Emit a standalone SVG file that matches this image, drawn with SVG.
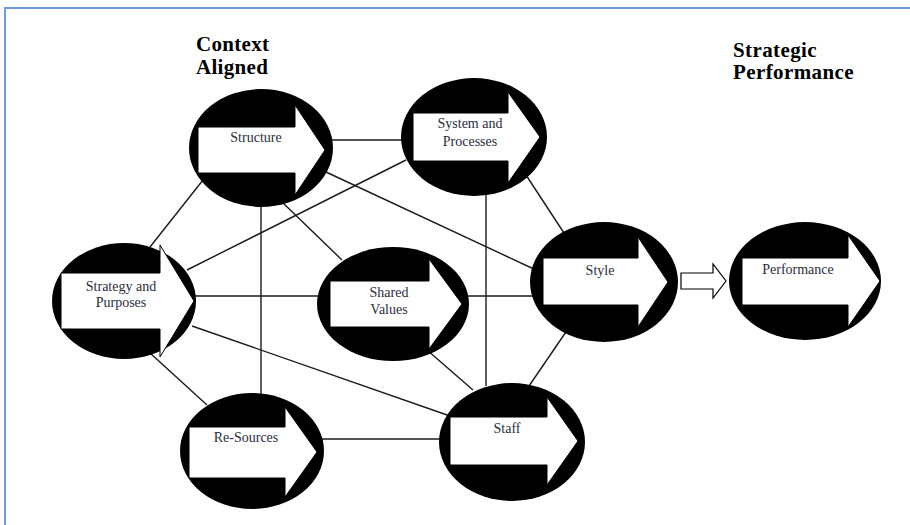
<svg xmlns="http://www.w3.org/2000/svg" width="910" height="525" viewBox="0 0 910 525">
<style>
.bg{fill:#ffffff}
.frame{fill:none;stroke:#6b9be0;stroke-width:2}
.conn line{stroke:#1a1a1a;stroke-width:1.4}
.disc{fill:#000000}
.arr{fill:#ffffff;stroke:#000000;stroke-width:1}
.lbl{font-family:"Liberation Serif","DejaVu Serif",serif;font-size:14px;fill:#2a2d40;text-anchor:middle}
.ttl{font-family:"Liberation Serif","DejaVu Serif",serif;font-size:21px;font-weight:bold;fill:#000000}
</style>
<rect class="bg" x="0" y="0" width="910" height="525"/>
<path class="frame" d="M5,525 V8 H910"/>
<g id="titles">
<text class="ttl" x="196" y="51" letter-spacing="0.3">Context</text>
<text class="ttl" x="196" y="74" letter-spacing="0.3">Aligned</text>
<text class="ttl" x="733" y="57" letter-spacing="0.4">Strategic</text>
<text class="ttl" x="733" y="79" letter-spacing="0.4">Performance</text>
</g>
<g id="connectors" class="conn">
<line x1="330" y1="140" x2="404" y2="140"/>
<line x1="203" y1="180" x2="150" y2="247"/>
<line x1="261" y1="205" x2="261" y2="395"/>
<line x1="282" y1="202" x2="342" y2="260"/>
<line x1="326" y1="172" x2="536" y2="270"/>
<line x1="406" y1="160" x2="187" y2="270"/>
<line x1="486" y1="192" x2="486" y2="386"/>
<line x1="526" y1="175" x2="564" y2="233"/>
<line x1="194" y1="296" x2="320" y2="296"/>
<line x1="466" y1="296" x2="535" y2="296"/>
<line x1="192" y1="326" x2="450" y2="416"/>
<line x1="150" y1="353" x2="207" y2="405"/>
<line x1="427" y1="350" x2="473" y2="390"/>
<line x1="568" y1="329" x2="529" y2="386"/>
<line x1="320" y1="439" x2="444" y2="439"/>
</g>
<g id="structure">
<ellipse class="disc" cx="261" cy="148" rx="72" ry="59"/>
<polygon class="arr" points="198,127 295,127 295,105 325,150 295,195 295,173 198,173"/>
<text class="lbl" x="256" y="142">Structure</text>
</g>
<g id="system-processes">
<ellipse class="disc" cx="474" cy="137" rx="73" ry="59"/>
<polygon class="arr" points="413,113 508,113 508,92 540,137 508,183 508,161 413,161"/>
<text class="lbl" x="470" y="128">System and</text>
<text class="lbl" x="470" y="146">Processes</text>
</g>
<g id="strategy-purposes">
<ellipse class="disc" cx="124" cy="301" rx="72" ry="58"/>
<polygon class="arr" points="61,273 160,273 160,245 194,301 160,357 160,329 61,329"/>
<text class="lbl" x="121" y="291">Strategy and</text>
<text class="lbl" x="121" y="307">Purposes</text>
</g>
<g id="shared-values">
<ellipse class="disc" cx="393" cy="304" rx="76" ry="57"/>
<polygon class="arr" points="330,281 429,281 429,259 462,304 429,349 429,327 330,327"/>
<text class="lbl" x="389" y="297">Shared</text>
<text class="lbl" x="389" y="314">Values</text>
</g>
<g id="style">
<ellipse class="disc" cx="604" cy="282" rx="74" ry="60"/>
<polygon class="arr" points="543,258 638,258 638,237 668,282 638,327 638,305 543,305"/>
<text class="lbl" x="600" y="275">Style</text>
</g>
<g id="flow-arrow">
<polygon fill="#ffffff" stroke="#000000" stroke-width="1.2" points="681,273 713,273 713,264 726,281 713,298 713,289 681,289"/>
</g>
<g id="performance">
<ellipse class="disc" cx="805" cy="281" rx="76" ry="59"/>
<polygon class="arr" points="742,258 848,258 848,235 880,281 848,327 848,305 742,305"/>
<text class="lbl" x="798" y="274">Performance</text>
</g>
<g id="re-sources">
<ellipse class="disc" cx="252" cy="451" rx="72" ry="58"/>
<polygon class="arr" points="189,427 285,427 285,407 317,452 285,497 285,478 189,478"/>
<text class="lbl" x="246" y="442">Re-Sources</text>
</g>
<g id="staff">
<ellipse class="disc" cx="512" cy="442" rx="73" ry="59"/>
<polygon class="arr" points="450,417 547,417 547,397 578,441 547,485 547,465 450,465"/>
<text class="lbl" x="507" y="433">Staff</text>
</g>
</svg>
